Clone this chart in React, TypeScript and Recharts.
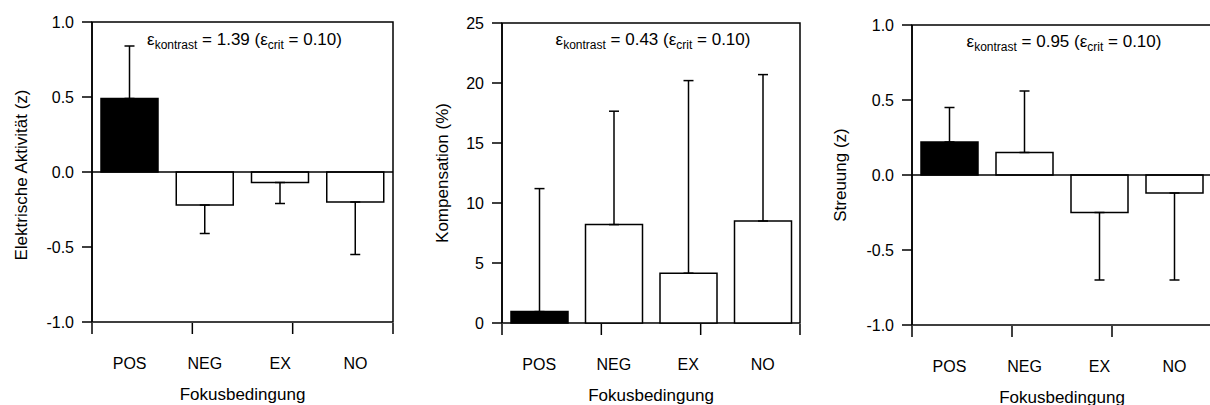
import React from "react";
import { BarChart, Bar, XAxis, YAxis, ErrorBar, Cell, ReferenceLine, ReferenceArea, Label } from "recharts";

const CATEGORIES = ["POS", "NEG", "EX", "NO"];
const BAR_FILLS = ["#000000", "#ffffff", "#ffffff", "#ffffff"];

const AKTIVITAET = [0.49, -0.22, -0.07, -0.2];
const AKTIVITAET_ERR = [0.35, 0.19, 0.14, 0.35];
const KOMPENSATION = [0.95, 8.2, 4.15, 8.5];
const KOMPENSATION_ERR = [10.25, 9.45, 16.05, 12.2];
const STREUUNG = [0.22, 0.15, -0.25, -0.12];
const STREUUNG_ERR = [0.23, 0.41, 0.45, 0.58];

const Z_TICKS = [-1, -0.5, 0, 0.5, 1];
const PCT_TICKS = [0, 5, 10, 15, 20, 25];
const EDGE_TICKS = [0, 1, 2, 3, 4];

const EPS_KONTRAST = ["1.39", "0.43", "0.95"];
const EPS_CRIT = "0.10";

const FONT = "'Liberation Sans', Arial, Helvetica, sans-serif";
const INK = "#000000";
const LINE = 1.5;
const W = 410;
const H = 405;
const AXIS_W = 92;

interface PanelProps {
  left: number;
  top: number;
  right: number;
  bottom: number;
  values: number[];
  errors: number[];
  domain: [number, number];
  ticks: number[];
  digits: number;
  yTitle: string;
  yTitleX: number;
  yTitleDy: number;
  kontrast: string;
  noteY: number;
  zeroLine: boolean;
}

const Panel: React.FC<PanelProps> = ({
  left, top, right, bottom, values, errors, domain, ticks, digits,
  yTitle, yTitleX, yTitleDy, kontrast, noteY, zeroLine,
}) => {
  const data = CATEGORIES.map((name, i) => ({
    name,
    value: values[i],
    err: values[i] >= 0 ? [0, errors[i]] : [errors[i], 0],
  }));
  const noteX = AXIS_W + (W - AXIS_W - right) / 2 + 2;
  const lineStyle = { stroke: INK, strokeWidth: LINE };
  const tickStyle = { fill: INK, fontSize: 16, fontFamily: FONT };

  return (
    <div style={{ position: "absolute", left, top: 0, width: W, height: H }}>
      <BarChart width={W} height={H} data={data} margin={{ top, right, bottom: bottom - 2, left: 0 }}>
        <XAxis
          xAxisId="edges"
          type="number"
          domain={[0, 4]}
          ticks={EDGE_TICKS}
          height={1}
          interval={0}
          tickSize={11}
          tickFormatter={() => ""}
          axisLine={false}
          tickLine={lineStyle}
        />
        <XAxis
          dataKey="name"
          height={1}
          axisLine={false}
          tickLine={false}
          tickSize={0}
          tickMargin={36}
          interval={0}
          tick={tickStyle}
        >
          <Label
            content={(p: any) => {
              const vb = p.viewBox || {};
              return (
                <text
                  x={vb.x + vb.width / 2}
                  y={top + (H - top - bottom) + 78}
                  textAnchor="middle"
                  fontSize={17}
                  fontFamily={FONT}
                  fill={INK}
                >
                  Fokusbedingung
                </text>
              );
            }}
          />
        </XAxis>
        <YAxis
          width={AXIS_W}
          type="number"
          domain={domain}
          ticks={ticks}
          interval={0}
          tickSize={10}
          tickMargin={8}
          tickFormatter={(v: number) => v.toFixed(digits)}
          axisLine={lineStyle}
          tickLine={lineStyle}
          tick={tickStyle}
        >
          <Label
            content={(p: any) => {
              const vb = p.viewBox || {};
              const cy = vb.y + vb.height / 2 + yTitleDy;
              return (
                <text
                  x={yTitleX}
                  y={cy}
                  transform={`rotate(-90 ${yTitleX} ${cy})`}
                  textAnchor="middle"
                  fontSize={17}
                  fontFamily={FONT}
                  fill={INK}
                >
                  {yTitle}
                </text>
              );
            }}
          />
        </YAxis>
        <ReferenceArea y1={domain[0]} y2={domain[1]} fill="none" stroke={INK} strokeWidth={LINE} ifOverflow="visible" />
        {zeroLine && <ReferenceLine y={0} stroke={INK} strokeWidth={LINE} />}
        <Bar dataKey="value" barSize={57} stroke={INK} strokeWidth={LINE} isAnimationActive={false}>
          {data.map((d, i) => (
            <Cell key={d.name} fill={BAR_FILLS[i]} />
          ))}
          <ErrorBar dataKey="err" width={5} stroke={INK} strokeWidth={LINE} direction="y" />
        </Bar>
      </BarChart>
      <svg
        width={W}
        height={H}
        style={{ position: "absolute", left: 0, top: 0, pointerEvents: "none" }}
      >
        <text x={noteX} y={noteY} textAnchor="middle" fontFamily={FONT} fill={INK} fontSize={17}>
          <tspan>ε</tspan>
          <tspan fontSize={12} dy={4}>kontrast</tspan>
          <tspan dy={-4}>{` = ${kontrast} (ε`}</tspan>
          <tspan fontSize={12} dy={4}>crit</tspan>
          <tspan dy={-4}>{` = ${EPS_CRIT})`}</tspan>
        </text>
      </svg>
    </div>
  );
};

export default function App() {
  return (
    <div
      style={{
        position: "absolute",
        left: 0,
        top: 0,
        width: 1210,
        height: 405,
        overflow: "hidden",
        background: "#ffffff",
      }}
    >
      <Panel
        left={0}
        top={22}
        right={17}
        bottom={83}
        values={AKTIVITAET}
        errors={AKTIVITAET_ERR}
        domain={[-1, 1]}
        ticks={Z_TICKS}
        digits={1}
        yTitle="Elektrische Aktivität (z)"
        yTitleX={26.5}
        yTitleDy={3}
        kontrast={EPS_KONTRAST[0]}
        noteY={45}
        zeroLine
      />
      <Panel
        left={410}
        top={23}
        right={20}
        bottom={82}
        values={KOMPENSATION}
        errors={KOMPENSATION_ERR}
        domain={[0, 25]}
        ticks={PCT_TICKS}
        digits={0}
        yTitle="Kompensation (%)"
        yTitleX={38}
        yTitleDy={0}
        kontrast={EPS_KONTRAST[1]}
        noteY={45}
        zeroLine={false}
      />
      <Panel
        left={820}
        top={25}
        right={18}
        bottom={80}
        values={STREUUNG}
        errors={STREUUNG_ERR}
        domain={[-1, 1]}
        ticks={Z_TICKS}
        digits={1}
        yTitle="Streuung (z)"
        yTitleX={26}
        yTitleDy={0}
        kontrast={EPS_KONTRAST[2]}
        noteY={47}
        zeroLine
      />
    </div>
  );
}
